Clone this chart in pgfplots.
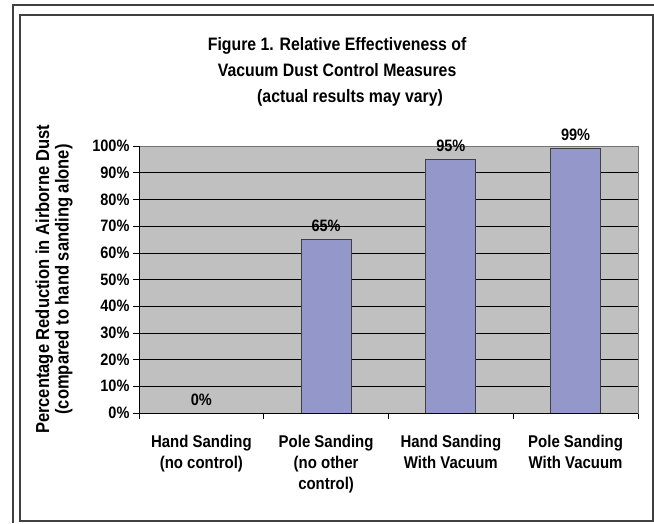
\documentclass[border=0pt]{standalone}
\usepackage{pgfplots}
\pgfplotsset{compat=1.18}
\usepackage{fontspec}
\setmainfont{Liberation Sans}[FakeStretch=0.88]
\definecolor{bgray}{HTML}{C0C0C0}
\definecolor{barcol}{HTML}{9497C9}
\definecolor{frame}{HTML}{404040}
\begin{document}
\begin{tikzpicture}[x=1pt,y=1pt]
% bounding box: px (0,0)-(654,523), origin at plot SW (139,413)
\useasboundingbox (-139,-110) rectangle (515,413);
\draw[frame, line width=1.5pt] (-126,-110) -- (-126,408) -- (515,408);
\draw[frame, line width=1.5pt] (-119,-108) rectangle (514,398);
\begin{axis}[
  at={(0,0)}, anchor=south west,
  scale only axis, width=499pt, height=267pt,
  xmin=-0.5, xmax=3.5, ymin=0, ymax=100,
  axis background/.style={fill=bgray},
  axis line style={draw=gray!90!black, line width=0.6pt},
  ymajorgrids, grid style={black, line width=0.6pt},
  ytick={0,10,...,100},
  yticklabel={\pgfmathprintnumber{\tick}\%},
  /pgf/number format/assume math mode=true,
  tick label style={font=\fontsize{16.5}{18}\selectfont\bfseries},
  tick style={black, line width=0.6pt},
  major tick length=6pt,
  tick align=outside,
  xtick={-0.5,0.5,1.5,2.5,3.5},
  xticklabels={},
  extra x ticks={0,1,2,3},
  extra x tick labels={Hand Sanding\\(no control), Pole Sanding\\(no other\\control), Hand Sanding\\With Vacuum, Pole Sanding\\With Vacuum},
  extra x tick style={major tick length=0pt, tick label style={align=center, anchor=north, yshift=-19pt, font=\fontsize{17}{21}\selectfont\bfseries}},
  ytick pos=left, xtick pos=bottom,
  ylabel={Percentage Reduction in Airborne Dust\\(compared to hand sanding alone)},
  ylabel style={at={(axis description cs:-0.1703,0.5)}, anchor=center, align=center, font=\fontsize{18.8}{19.5}\selectfont\bfseries},
  title={Figure 1. Relative Effectiveness of\\Vacuum Dust Control Measures\\\hspace*{26pt}(actual results may vary)},
  title style={at={(axis description cs:0.397,1.255)}, anchor=center, align=center, font=\fontsize{18}{26.3}\selectfont\bfseries},
  ybar, bar width=50pt, bar shift=0pt,
  nodes near coords={\pgfmathprintnumber{\pgfplotspointmeta}\%},
  nodes near coords style={font=\fontsize{16.5}{18}\selectfont\bfseries, anchor=south, yshift=4pt},
  clip=false,
]
\addplot[fill=barcol, draw=black!75, line width=0.8pt] coordinates {(0,0) (1,65) (2,95) (3,99)};
\end{axis}
\draw[black, line width=0.8pt] (0,267) -- (0,0) -- (499,0);
\end{tikzpicture}
\end{document}
